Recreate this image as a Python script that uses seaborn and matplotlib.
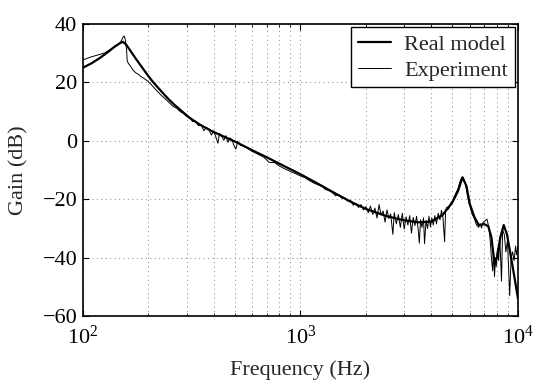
import numpy as np
import pandas as pd
import matplotlib
matplotlib.use("Agg")
import matplotlib.pyplot as plt
import matplotlib.ticker as mticker
import seaborn as sns

# ---- data ----
series_names = ["Real model", "Experiment"]

model_freq = [100, 110, 120, 130, 140, 148, 153, 158, 165, 175, 190, 200, 210, 220,
              230, 240, 250, 265, 280, 295, 310, 330, 350, 400, 450, 500, 600, 700,
              800, 900, 1000, 1200, 1400, 1700, 2000, 2500, 3000, 3500, 4000, 4500,
              5000, 5300, 5560, 5800, 6000, 6300, 6600, 7000, 7300, 7550, 7800, 8000,
              8300, 8600, 8900, 9200, 9600, 10000]
model_gain = [25.0, 26.6, 28.4, 30.3, 32.2, 33.4, 33.9, 33.0, 31.0, 28.2, 24.5, 22.2,
              20.2, 18.5, 16.9, 15.4, 14.0, 12.2, 10.7, 9.2, 7.9, 6.5, 5.3, 3.0, 1.3,
              -0.2, -3.2, -5.6, -7.8, -9.7, -11.4, -14.6, -17.4, -20.8, -23.3, -25.8,
              -27.2, -27.9, -27.6, -25.4, -21.0, -17.2, -12.5, -15.5, -21.5, -26.0,
              -28.8, -28.5, -29.2, -33.0, -42.0, -40.0, -33.0, -28.8, -32.0, -38.0,
              -46.0, -54.0]

exp_freq = [100, 105, 110, 115, 120, 126, 132, 138, 144, 148, 151, 153, 155, 157, 159,
            160, 162, 166, 170, 175, 180, 185, 190, 196, 203, 210, 220, 230, 240, 250,
            260, 270, 280, 290, 300, 310, 320, 330, 340, 350, 360, 370, 380, 390, 400,
            410, 418, 425, 435, 445, 455, 465, 475, 485, 495, 505, 515, 530, 550, 575,
            600, 640, 680, 720, 760, 800, 850, 900, 950, 1000, 1050, 1100, 1150, 1200,
            1260, 1300, 1350, 1400, 1450, 1500, 1550, 1600, 1650, 1700, 1750, 1800,
            1850, 1900, 1950, 2000, 2050, 2100, 2150, 2200, 2250, 2300, 2350, 2400,
            2450, 2500, 2550, 2600, 2660, 2700, 2760, 2820, 2880, 2940, 3000, 3060,
            3120, 3180, 3240, 3300, 3360, 3420, 3480, 3520, 3570, 3620, 3680, 3720,
            3780, 3840, 3900, 3960, 4020, 4080, 4150, 4220, 4300, 4380, 4450, 4520,
            4600, 4650, 4720, 4800, 4900, 5000, 5100, 5200, 5300, 5400, 5500, 5580,
            5650, 5750, 5850, 5950, 6050, 6150, 6300, 6450, 6600, 6700, 6800, 6900,
            7050, 7200, 7350, 7450, 7550, 7650, 7720, 7800, 7880, 7950, 8050, 8150,
            8250, 8400, 8500, 8650, 8800, 8950, 9160, 9300, 9450, 9600, 9750, 9850,
            10000]
exp_gain = [27.6, 28.3, 28.8, 29.2, 29.6, 30.1, 31.0, 32.0, 33.0, 33.5, 34.5, 35.5,
            35.9, 34.5, 31.0, 27.5, 26.5, 25.5, 24.3, 23.3, 22.8, 22.0, 21.5, 20.8,
            19.8, 18.6, 17.0, 15.5, 14.3, 13.0, 11.8, 11.2, 10.0, 9.4, 8.4, 7.8, 6.6,
            6.8, 5.2, 5.6, 3.5, 4.6, 3.8, 2.0, 3.4, 1.0, -0.8, 2.6, 1.5, 0.2, 1.8,
            -0.5, 1.0, 0.4, -1.6, -2.8, -0.2, -1.5, -1.8, -2.6, -3.6, -4.6, -5.6,
            -7.4, -7.4, -8.6, -9.6, -10.5, -11.2, -12.0, -12.6, -13.6, -14.4, -15.0,
            -15.6, -16.6, -17.0, -17.6, -18.8, -18.4, -19.6, -19.5, -20.6, -20.3,
            -22.0, -21.4, -22.8, -21.8, -23.6, -22.5, -24.6, -22.3, -25.2, -23.0,
            -26.4, -21.8, -25.4, -24.0, -27.8, -23.6, -26.6, -25.0, -32.0, -24.6,
            -28.4, -25.2, -29.6, -24.8, -30.2, -26.0, -28.8, -25.6, -31.6, -26.2,
            -29.0, -25.8, -30.4, -35.0, -27.0, -29.6, -26.4, -35.2, -27.2, -30.0,
            -25.8, -29.4, -26.4, -28.8, -25.6, -28.4, -24.8, -27.0, -23.8, -26.2,
            -34.5, -23.6, -22.6, -23.4, -21.4, -20.5, -19.0, -17.6, -16.4, -14.2,
            -12.6, -12.4, -13.2, -15.0, -18.5, -21.0, -23.0, -25.0, -26.6, -28.8,
            -29.6, -28.4, -29.8, -28.0, -27.4, -26.8, -29.6, -34.0, -40.0, -44.5,
            -38.0, -46.5, -40.0, -43.0, -37.0, -41.0, -33.0, -48.0, -30.5, -32.0,
            -38.0, -34.0, -53.0, -40.0, -38.0, -41.0, -36.0, -39.0, -36.0]

x_ticks = [100, 1000, 10000]
y_ticks = [-60, -40, -20, 0, 20, 40]

# ---- styling ----
sns.set_style("ticks")
plt.rcParams["font.family"] = ["Liberation Serif", "DejaVu Serif"]
plt.rcParams["mathtext.fontset"] = "custom"
plt.rcParams["mathtext.rm"] = "Liberation Serif"
plt.rcParams["mathtext.it"] = "Liberation Serif:italic"
plt.rcParams["axes.unicode_minus"] = True

fs = 16
fig = plt.figure(figsize=(5.34, 3.87), dpi=100)
ax = fig.add_axes([0.155, 0.183, 0.815, 0.755])

df_model = pd.DataFrame({"f": model_freq, "g": model_gain})
df_exp = pd.DataFrame({"f": exp_freq, "g": exp_gain})

sns.lineplot(data=df_model, x="f", y="g", ax=ax, color="black", linewidth=1.6,
             label=series_names[0], estimator=None, sort=False)
sns.lineplot(data=df_exp, x="f", y="g", ax=ax, color="black", linewidth=0.7,
             label=series_names[1], estimator=None, sort=False)

ax.set_xscale("log")
ax.set_xlim(100, 10000)
ax.set_ylim(-60, 40)
ax.set_xticks(x_ticks)
ax.set_yticks(y_ticks)
ax.xaxis.set_major_formatter(mticker.LogFormatterSciNotation())
ax.xaxis.set_minor_locator(mticker.LogLocator(base=10, subs=np.arange(2, 10)))
ax.xaxis.set_minor_formatter(mticker.NullFormatter())

grid_style = dict(linestyle=(0, (1, 3)), color="#999999", linewidth=0.8)
ax.grid(True, which="major", axis="both", **grid_style)
ax.grid(True, which="minor", axis="x", **grid_style)

ax.tick_params(which="both", direction="in", top=True, right=True, colors="black",
               labelsize=fs)
ax.tick_params(which="major", length=4, width=0.8)
ax.tick_params(which="minor", length=2, width=0.6)
ax.tick_params(axis="x", which="major", pad=7)
ax.tick_params(axis="y", which="major", pad=4)

for sp in ax.spines.values():
    sp.set_visible(True)
    sp.set_color("black")
    sp.set_linewidth(1.2)

ax.set_xlabel("Frequency (Hz)", fontsize=fs, labelpad=8)
ax.set_ylabel("Gain (dB)", fontsize=fs, labelpad=10)

leg = ax.legend(loc="upper right", fontsize=fs, frameon=True, fancybox=False,
                edgecolor="black", framealpha=1, handlelength=1.5,
                handletextpad=0.6, borderpad=0.3, labelspacing=0.25,
                borderaxespad=0.15)
leg.get_frame().set_linewidth(1.0)

fig.savefig("out.png", dpi=100)
